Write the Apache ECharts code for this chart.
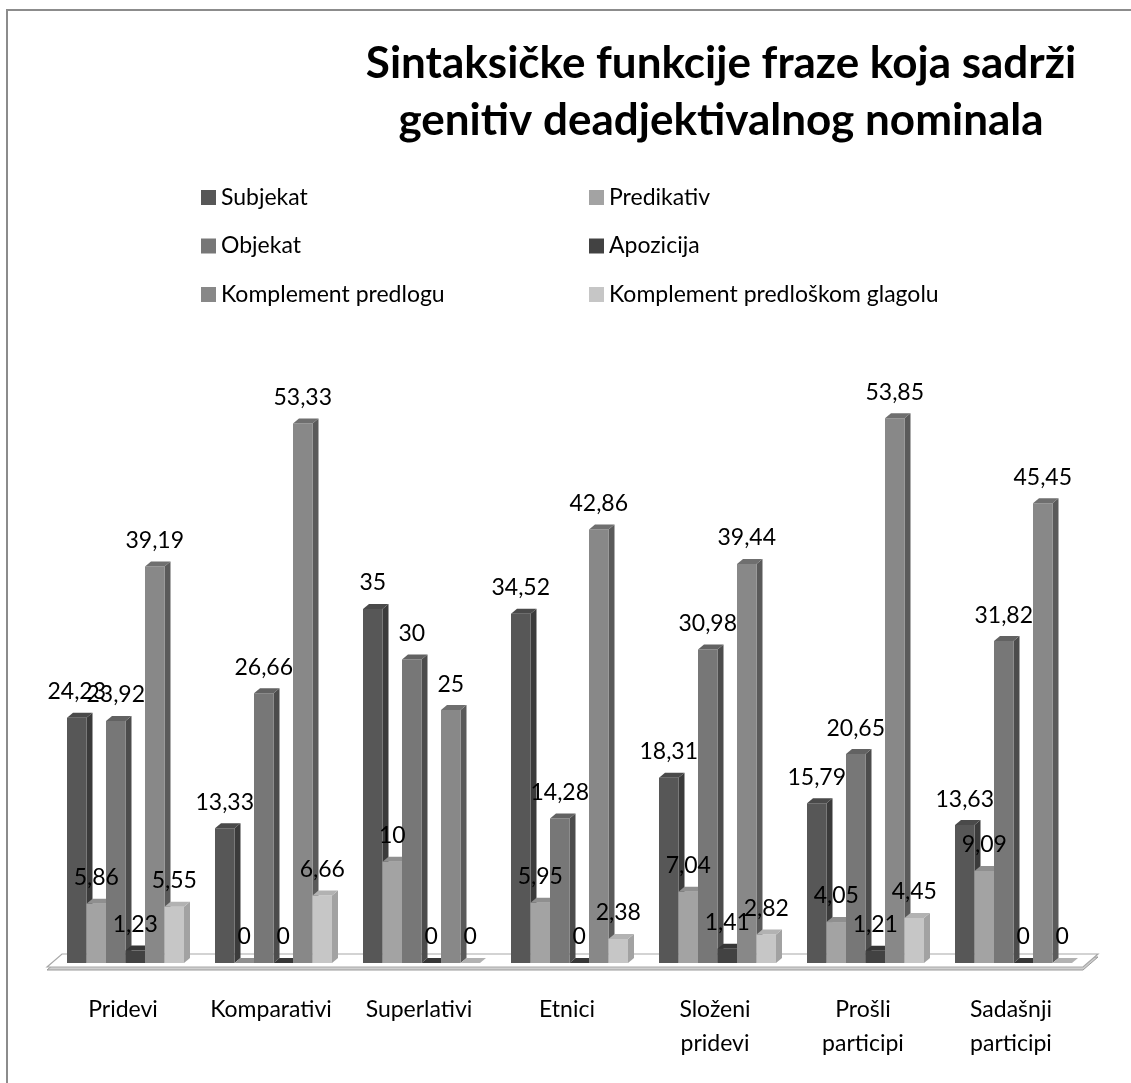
<!DOCTYPE html>
<html>
<head>
<meta charset="utf-8">
<title>Sintaksičke funkcije fraze koja sadrži genitiv deadjektivalnog nominala</title>
<script src="https://cdn.jsdelivr.net/npm/echarts@6.0.0/dist/echarts.min.js"></script>
<style>
  html, body { margin: 0; padding: 0; background: #fff; }
  #main { width: 1131px; height: 1083px; }
</style>
</head>
<body>
<div id="main"></div>
<script>
// kategorije i vrijednosti (%)
var categories = ['Pridevi', 'Komparativi', 'Superlativi', 'Etnici', 'Složeni pridevi', 'Prošli participi', 'Sadašnji participi'];
var seriesNames = ['Subjekat', 'Predikativ', 'Objekat', 'Apozicija', 'Komplement predlogu', 'Komplement predloškom glagolu'];
var subjekat = [24.23, 13.33, 35, 34.52, 18.31, 15.79, 13.63];
var predikativ = [5.86, 0, 10, 5.95, 7.04, 4.05, 9.09];
var objekat = [23.92, 26.66, 30, 14.28, 30.98, 20.65, 31.82];
var apozicija = [1.23, 0, 0, 0, 1.41, 1.21, 0];
var kompPredlogu = [39.19, 53.33, 25, 42.86, 39.44, 53.85, 45.45];
var kompGlagolu = [5.55, 6.66, 0, 2.38, 2.82, 4.45, 0];
var values = [subjekat, predikativ, objekat, apozicija, kompPredlogu, kompGlagolu];

// boje: prednja strana, bok, vrh
var fronts = ['#575757', '#a3a3a3', '#777777', '#424242', '#888888', '#c6c6c6'];
var sides  = ['#3b3b3b', '#7e7e7e', '#4c4c4c', '#2c2c2c', '#5a5a5a', '#a2a2a2'];
var tops   = ['#4a4a4a', '#8f8f8f', '#626262', '#363636', '#6f6f6f', '#b2b2b2'];

var FONT = 'Lato, "Open Sans", sans-serif';
var BAR_W = 19.5, DX = 6, DY = 5;

var chart = echarts.init(document.getElementById('main'));

function fmt(v) {
  return String(v).replace('.', ',');
}

function barLeft(cx, idx) {
  return cx - 3 * BAR_W + 2.5 + idx * BAR_W;
}

// 3D stubac: bok, prednja strana, vrh
function barRenderer(idx) {
  return function (params, api) {
    var cat = api.value(0), v = api.value(1);
    var top = api.coord([cat, v]);
    var base = api.coord([cat, 0]);
    var x = barLeft(top[0], idx), w = BAR_W;
    var y0 = base[1], y1 = top[1];
    return {
      type: 'group',
      children: [
        { type: 'polygon', shape: { points: [[x + w, y1], [x + w + DX, y1 - DY], [x + w + DX, y0 - DY], [x + w, y0]] },
          style: { fill: sides[idx] } },
        { type: 'rect', shape: { x: x, y: y1, width: w, height: y0 - y1 }, style: { fill: fronts[idx] } },
        { type: 'polygon', shape: { points: [[x, y1], [x + DX, y1 - DY], [x + w + DX, y1 - DY], [x + w, y1]] },
          style: { fill: tops[idx] } }
      ]
    };
  };
}

function labelRenderer(idx) {
  return function (params, api) {
    var cat = api.value(0), v = api.value(1);
    var top = api.coord([cat, v]);
    var cx = barLeft(top[0], idx) + BAR_W / 2;
    return {
      type: 'text',
      x: cx,
      y: top[1] - 26,
      style: { text: fmt(v), align: 'center', verticalAlign: 'middle', fontSize: 23, fontFamily: FONT, fill: '#000' }
    };
  };
}

// pod (ploča ispod stubaca)
function floorRenderer(params, api) {
  var band = api.size([1, 0])[0];
  var l = api.coord([0, 0]);
  var r = api.coord([categories.length - 1, 0]);
  var L = l[0] - band / 2, R = r[0] + band / 2, B = l[1];
  var pts = [[L - 2, B + 4], [L + 13, B - 9], [R + 13, B - 9], [R - 2, B + 4]];
  var low = pts.map(function (p) { return [p[0], p[1] + 3]; });
  return {
    type: 'group',
    children: [
      { type: 'polygon', shape: { points: low }, style: { fill: '#cfcfcf', stroke: '#9a9a9a', lineWidth: 1 } },
      { type: 'polygon', shape: { points: pts }, style: { fill: '#ffffff', stroke: '#a8a8a8', lineWidth: 1.2 } }
    ]
  };
}

var series = [{
  type: 'custom',
  name: 'pod',
  renderItem: floorRenderer,
  data: [[0, 0]],
  z: 1,
  silent: true
}];

seriesNames.forEach(function (name, i) {
  series.push({
    type: 'custom',
    name: name,
    renderItem: barRenderer(i),
    itemStyle: { color: fronts[i] },
    data: values[i].map(function (v, k) { return [k, v]; }),
    z: 2
  });
});
seriesNames.forEach(function (name, i) {
  series.push({
    type: 'custom',
    name: 'oznake ' + i,
    renderItem: labelRenderer(i),
    data: values[i].map(function (v, k) { return [k, v]; }),
    z: 3,
    silent: true
  });
});

var legendBase = {
  orient: 'vertical',
  top: 181,
  itemWidth: 15,
  itemHeight: 15,
  itemGap: 25.5,
  icon: 'rect',
  selectedMode: false,
  textStyle: { fontSize: 23, fontFamily: FONT, color: '#000', lineHeight: 22 }
};

var option = {
  animation: false,
  backgroundColor: '#fff',
  title: {
    text: 'Sintaksičke funkcije fraze koja sadrži\ngenitiv deadjektivalnog nominala',
    left: 721,
    top: 35,
    textAlign: 'center',
    padding: 0,
    textStyle: { fontSize: 44, fontWeight: 'bold', fontFamily: FONT, color: '#000', lineHeight: 57 }
  },
  legend: [
    Object.assign({}, legendBase, { left: 196, data: [seriesNames[0], seriesNames[2], seriesNames[4]] }),
    Object.assign({}, legendBase, { left: 584, data: [seriesNames[1], seriesNames[3], seriesNames[5]] })
  ],
  grid: { left: 49, right: 46, top: 356, bottom: 120 },
  xAxis: {
    type: 'category',
    data: categories,
    axisLine: { show: false },
    axisTick: { show: false },
    axisLabel: {
      margin: 30,
      fontSize: 23,
      fontFamily: FONT,
      color: '#000',
      lineHeight: 34,
      interval: 0,
      formatter: function (v) { return v.replace(' ', '\n'); }
    }
  },
  yAxis: {
    type: 'value',
    min: 0,
    max: 60,
    show: false,
    splitLine: { show: false }
  },
  graphic: [{
    type: 'rect',
    shape: { x: 7, y: 10, width: 1140, height: 1100 },
    style: { fill: 'none', stroke: '#8c8c8c', lineWidth: 2 },
    z: 0
  }],
  series: series
};

chart.setOption(option);
</script>
</body>
</html>
